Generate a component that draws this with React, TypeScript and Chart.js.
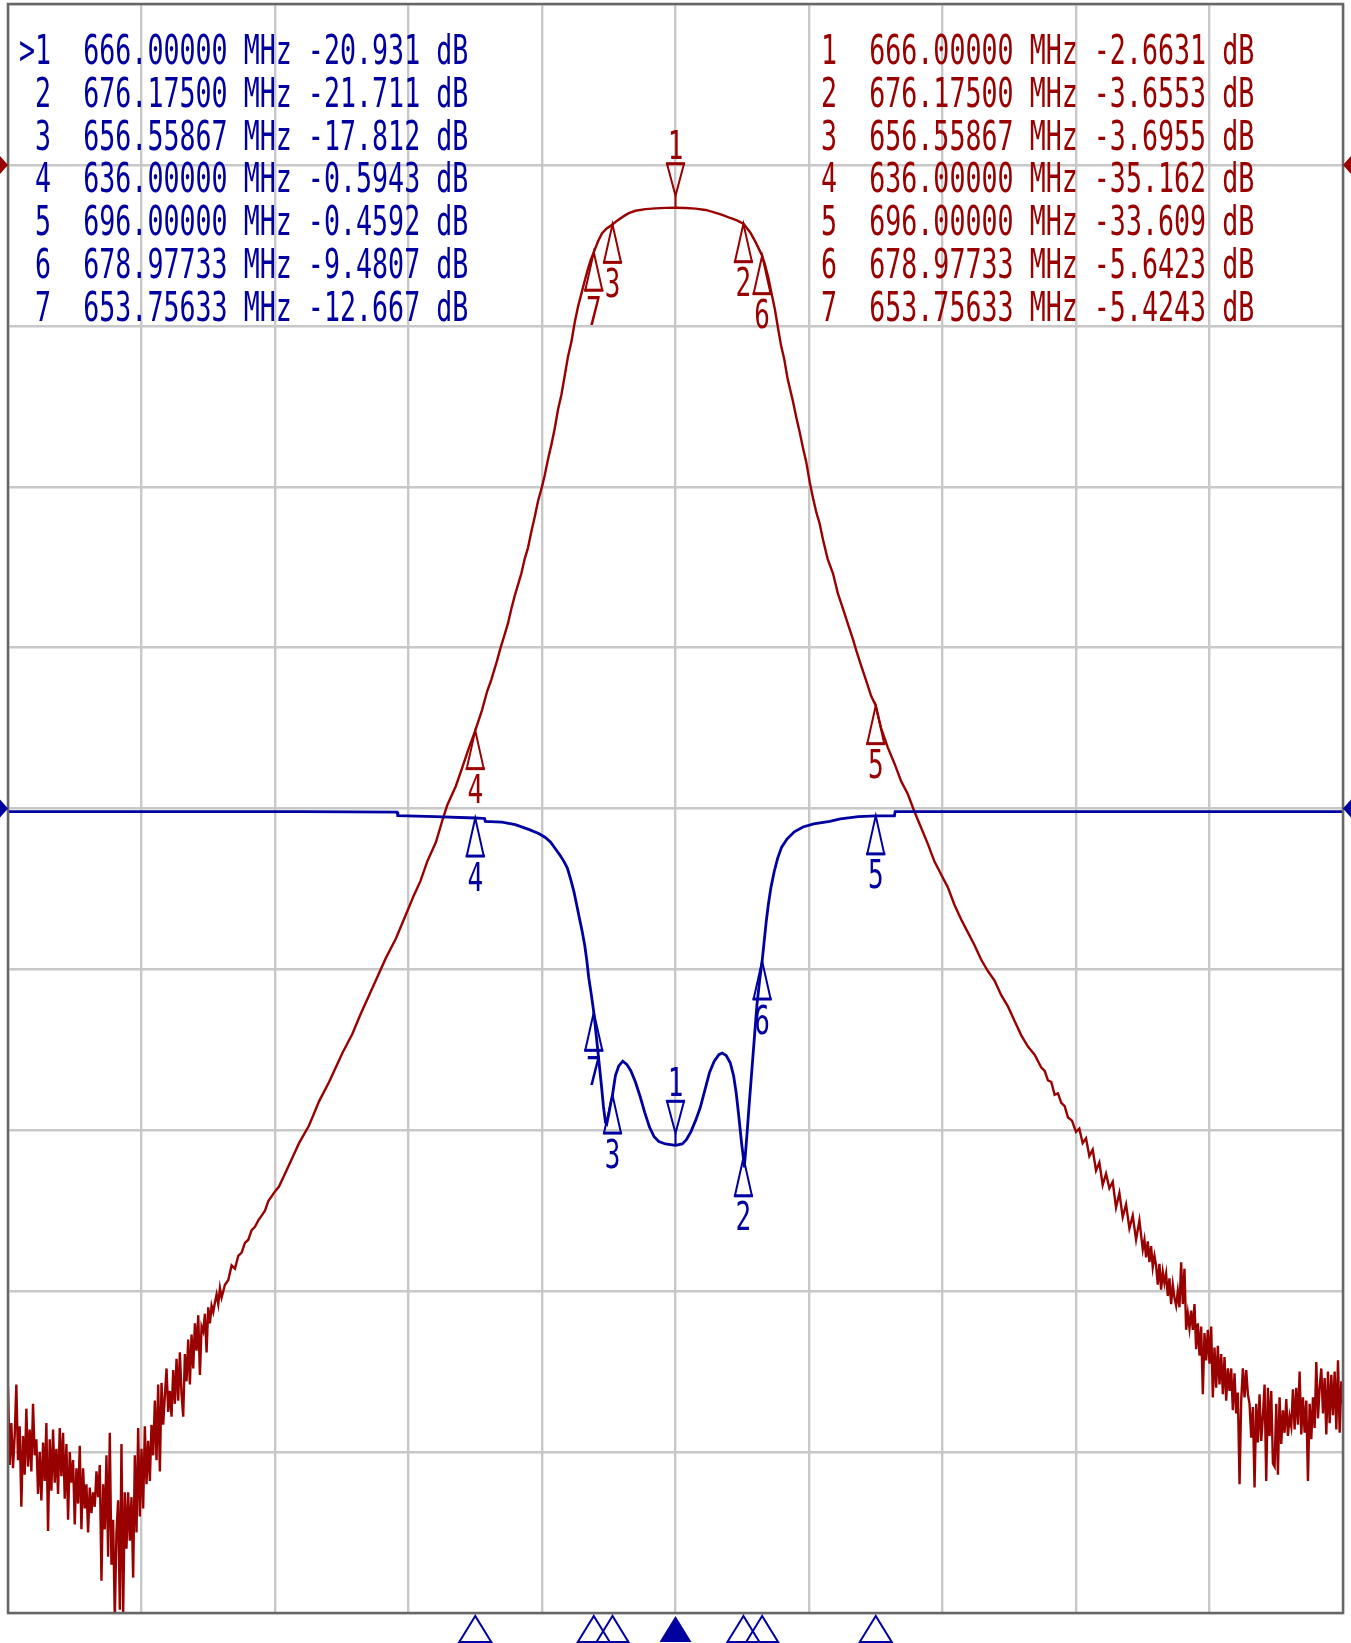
import React, { useEffect, useRef } from "react";
import { Chart, registerables } from "chart.js";

Chart.register(...registerables);

const PAGE_W = 1351;
const PAGE_H = 1643;

const S21_COLOR = "#990000";
const S11_COLOR = "#0000a0";
const GRID_COLOR = "#c8c8c8";
const FRAME_COLOR = "#666666";

// Sweep / scale settings (MHz, dB)
const freqStartMHz = 566;
const freqStopMHz = 766;
const freqPerDiv = 20;
const dbPerDiv = 10;
const s21Top = 10;
const s21Bottom = -90;
const s11Top = 50;
const s11Bottom = -50;
const s21RefLevel = 0;
const s11RefLevel = 0;

// Markers
const markerIds = ["1", "2", "3", "4", "5", "6", "7"];
const markerFreqs = [666.0, 676.175, 656.55867, 636.0, 696.0, 678.97733, 653.75633];
const s11MarkerValues = [-20.931, -21.711, -17.812, -0.5943, -0.4592, -9.4807, -12.667];
const s21MarkerValues = [-2.6631, -3.6553, -3.6955, -35.162, -33.609, -5.6423, -5.4243];
const activeMarker = 0;

// S21 trace (MHz, dB)
const s21LowerStopband = [
  [566.0, -76.0], [566.25, -80.8], [566.5, -78.2], [566.75, -81.0], [567.0, -79.0], [567.25, -75.8], [567.5, -80.5], [567.75, -78.4],
  [568.0, -83.4], [568.25, -79.0], [568.5, -81.4], [568.75, -77.3], [569.0, -80.9], [569.25, -78.6], [569.5, -81.2], [569.75, -77.0],
  [570.0, -80.2], [570.25, -79.2], [570.5, -82.6], [570.75, -80.0], [571.0, -83.0], [571.25, -79.4], [571.5, -81.8], [571.75, -78.2],
  [572.0, -84.9], [572.25, -79.2], [572.5, -82.4], [572.75, -78.6], [573.0, -81.9], [573.25, -79.8], [573.5, -82.6], [573.75, -78.5],
  [574.0, -81.5], [574.25, -78.8], [574.5, -82.9], [574.75, -79.5], [575.0, -84.2], [575.25, -80.0], [575.5, -81.9], [575.75, -80.5],
  [576.0, -84.5], [576.25, -81.0], [576.5, -83.2], [576.75, -79.6], [577.0, -84.8], [577.25, -81.0], [577.5, -83.5], [577.75, -82.0],
  [578.0, -85.0], [578.25, -82.2], [578.5, -83.8], [578.75, -82.5], [579.0, -83.4], [579.25, -81.2], [579.5, -82.8], [579.75, -80.8],
  [580.0, -88.0], [580.25, -82.0], [580.5, -84.8], [580.75, -80.2], [581.0, -86.5], [581.25, -78.8], [581.5, -87.0], [581.75, -84.2],
  [582.0, -90.3], [582.25, -85.0], [582.5, -83.0], [582.75, -89.8], [583.0, -79.5], [583.25, -90.2], [583.5, -82.5], [583.75, -86.0],
  [584.0, -82.5], [584.25, -85.5], [584.5, -82.8], [584.75, -87.8], [585.0, -80.2], [585.25, -85.0], [585.5, -78.5], [585.75, -84.0],
  [586.0, -79.8], [586.25, -83.5], [586.5, -78.4], [586.75, -82.0], [587.0, -79.3], [587.25, -81.8], [587.5, -78.3], [587.75, -80.2],
  [588.0, -76.8], [588.25, -80.5], [588.5, -75.8], [588.75, -81.2], [589.0, -75.7], [589.25, -78.3], [589.5, -76.5], [589.75, -74.8],
  [590.0, -77.5], [590.25, -76.2], [590.5, -77.8], [590.75, -74.9], [591.0, -77.0], [591.25, -74.2], [591.5, -76.8], [591.75, -73.8],
  [592.0, -76.4], [592.25, -77.8], [592.5, -73.9], [592.75, -75.6], [593.0, -73.0], [593.25, -75.8], [593.5, -72.7], [593.75, -74.8],
  [594.0, -72.0], [594.25, -73.7], [594.5, -71.5], [594.75, -75.2], [595.0, -72.2], [595.25, -72.5], [595.5, -71.4], [595.75, -73.8],
  [596.0, -71.0], [596.25, -72.0], [596.5, -70.9], [596.75, -71.3], [597.0, -70.7], [597.25, -70.2], [597.5, -70.8], [597.75, -69.8],
];

const s21LowerSkirt = [
  [598.0, -70.4], [598.5, -69.6], [599.0, -69.3], [599.5, -68.4], [600.0, -68.6], [600.5, -67.8], [601.0, -67.6], [601.5, -67.0],
  [602.0, -66.8], [602.5, -66.2], [603.0, -66.0], [603.5, -65.6], [604.0, -65.3], [604.5, -65.0], [605.0, -64.4], [606.0, -63.8],
  [606.6, -63.5], [607.6, -62.6], [608.6, -61.7], [609.6, -60.8], [611.1, -59.7], [612.6, -58.2], [614.1, -57.0], [615.1, -56.1],
  [616.1, -55.2], [617.6, -54.0], [618.8, -52.8], [620.1, -51.6], [621.3, -50.5], [622.6, -49.3], [624.1, -48.1], [625.6, -46.6],
  [626.8, -45.4], [627.8, -44.5], [628.8, -43.3], [630.1, -42.1], [631.1, -40.7], [631.8, -39.8], [633.1, -38.6], [634.1, -37.4],
  [635.0, -36.3], [636.0, -35.16], [637.0, -33.9], [637.8, -32.7], [638.4, -32.0], [639.2, -30.9], [639.8, -30.0], [640.4, -29.2],
  [640.9, -28.5], [641.4, -27.6], [641.9, -26.8], [642.4, -26.1], [642.9, -25.4], [643.4, -24.5], [643.9, -23.8], [644.4, -22.8],
  [644.9, -21.9], [645.4, -20.9], [646.0, -20.0], [646.4, -19.3], [646.9, -18.3], [647.4, -17.4], [647.9, -16.4], [648.4, -15.2],
  [648.9, -14.3], [649.4, -13.1], [649.9, -11.9], [650.4, -11.0], [650.9, -9.8], [651.4, -8.8], [651.9, -8.0], [652.4, -7.2],
  [652.9, -6.45], [653.3, -5.9],
];

const s21Passband = [
  [653.76, -5.42], [654.4, -4.75], [655.0, -4.25], [655.7, -3.95], [656.56, -3.7], [657.3, -3.45], [658.2, -3.2], [659.0, -3.0],
  [660.0, -2.85], [661.5, -2.75], [663.0, -2.7], [664.5, -2.67], [666.0, -2.66], [667.5, -2.68], [669.0, -2.72], [670.5, -2.8],
  [671.8, -2.95], [673.0, -3.1], [674.2, -3.3], [675.2, -3.45], [676.18, -3.66], [677.2, -4.2], [678.0, -4.8], [678.98, -5.64],
];

const s21UpperSkirt = [
  [679.4, -6.2], [679.9, -7.0], [680.4, -8.0], [680.9, -9.0], [681.3, -10.0], [681.8, -11.2], [682.3, -12.1], [682.8, -13.3],
  [683.6, -14.7], [684.1, -15.7], [684.6, -16.6], [685.1, -17.6], [685.6, -18.5], [686.1, -19.7], [686.6, -20.7], [687.1, -21.6],
  [687.6, -22.3], [688.1, -23.3], [688.8, -24.5], [689.6, -25.4], [690.3, -26.6], [691.1, -27.6], [691.8, -28.5], [692.6, -29.5],
  [693.1, -30.2], [693.8, -31.1], [694.6, -32.1], [695.3, -33.0], [696.0, -33.61], [696.8, -35.0], [697.8, -36.2], [698.8, -37.2],
  [699.8, -38.3], [700.8, -39.1], [701.8, -40.2], [702.8, -41.2], [703.8, -42.2], [704.8, -43.3], [705.8, -44.1], [706.8, -44.9],
  [707.8, -46.0], [708.8, -46.9], [709.8, -47.7], [710.8, -48.5], [711.8, -49.4], [712.8, -50.1], [713.8, -50.7], [714.8, -51.6],
  [715.8, -52.3], [716.8, -53.2], [717.8, -54.1], [718.8, -54.8], [719.8, -55.3], [720.8, -56.1], [721.3, -56.3], [721.8, -56.9],
  [722.3, -57.0], [722.8, -57.8], [723.3, -57.7], [723.8, -58.3], [724.3, -58.5], [724.8, -59.2], [725.4, -59.4], [726.0, -60.1],
  [726.5, -59.9], [727.0, -60.8], [727.5, -60.5], [728.0, -61.6], [728.5, -61.2], [729.0, -62.5], [729.5, -62.0], [730.0, -63.4],
  [730.5, -62.7], [731.0, -63.6], [731.5, -63.2], [732.0, -64.8], [732.5, -63.9], [733.0, -65.4], [733.5, -64.6], [734.0, -66.1],
  [734.5, -65.3], [735.0, -66.8], [735.5, -65.6], [736.0, -67.4], [736.25, -66.8], [736.5, -67.9], [736.75, -66.9], [737.0, -68.2],
  [737.25, -67.2], [737.5, -68.5], [737.75, -67.8],
];

const s21UpperStopband = [
  [738.0, -68.4], [738.25, -69.6], [738.5, -68.3], [738.75, -69.9], [739.0, -68.8], [739.25, -69.5], [739.5, -68.9], [739.75, -70.3],
  [740.0, -69.2], [740.25, -70.8], [740.5, -69.6], [740.75, -70.4], [741.0, -70.9], [741.25, -70.0], [741.5, -71.0], [741.75, -68.2],
  [742.0, -70.8], [742.25, -68.6], [742.5, -72.4], [742.75, -71.4], [743.0, -72.3], [743.25, -71.2], [743.5, -72.4], [743.75, -70.8],
  [744.0, -73.6], [744.25, -72.0], [744.5, -74.0], [744.75, -72.2], [745.0, -76.4], [745.25, -72.6], [745.5, -74.3], [745.75, -72.4],
  [746.0, -74.5], [746.25, -72.2], [746.5, -76.6], [746.75, -73.5], [747.0, -76.0], [747.25, -73.4], [747.5, -75.8], [747.75, -73.9],
  [748.0, -76.4], [748.25, -74.1], [748.5, -76.8], [748.75, -74.8], [749.0, -76.2], [749.25, -74.8], [749.5, -77.4], [749.75, -75.1],
  [750.0, -77.6], [750.25, -76.3], [750.5, -82.0], [750.75, -76.8], [751.0, -74.8], [751.25, -76.6], [751.5, -74.9], [751.75, -76.4],
  [752.0, -77.0], [752.25, -79.1], [752.5, -77.2], [752.75, -82.2], [753.0, -77.0], [753.25, -79.4], [753.5, -76.4], [753.75, -79.3],
  [754.0, -77.8], [754.25, -75.8], [754.5, -81.8], [754.75, -76.0], [755.0, -79.0], [755.25, -76.2], [755.5, -80.7], [755.75, -80.9],
  [756.0, -77.0], [756.25, -81.4], [756.5, -76.6], [756.75, -79.5], [757.0, -77.4], [757.25, -78.8], [757.5, -76.7], [757.75, -79.0],
  [758.0, -77.8], [758.25, -78.4], [758.5, -76.1], [758.75, -78.6], [759.0, -76.0], [759.25, -78.3], [759.5, -75.0], [759.75, -78.9],
  [760.0, -76.6], [760.25, -78.8], [760.5, -76.8], [760.75, -81.8], [761.0, -77.0], [761.25, -79.2], [761.5, -76.6], [761.75, -78.5],
  [762.0, -74.4], [762.25, -77.9], [762.5, -76.0], [762.75, -74.8], [763.0, -77.6], [763.25, -75.4], [763.5, -78.9], [763.75, -75.0],
  [764.0, -78.2], [764.25, -75.2], [764.5, -77.7], [764.75, -75.0], [765.0, -78.6], [765.25, -74.3], [765.5, -78.8], [765.75, -75.6],
  [766.0, -77.0],
];

// S11 trace (MHz, dB)
const s11LowerBand = [
  [566.0, -0.2], [590.0, -0.2], [610.0, -0.2], [624.3, -0.22], [624.4, -0.45], [630.0, -0.5], [636.0, -0.59], [637.4, -0.62],
  [637.5, -0.8], [640.0, -0.85], [642.0, -1.0], [644.0, -1.3], [645.5, -1.55],
];

const s11Passband = [
  [646.5, -1.8], [647.3, -2.1], [648.0, -2.5], [648.7, -2.9], [649.3, -3.3], [649.8, -3.7], [650.3, -4.4], [650.8, -5.2],
  [651.2, -6.0], [651.6, -6.8], [652.0, -7.6], [652.4, -8.5], [652.7, -9.4], [653.0, -10.5], [653.4, -11.6], [653.76, -12.67],
  [654.1, -14.0], [654.5, -15.6], [654.9, -17.2], [655.2, -18.5], [655.5, -19.5], [655.7, -19.6], [656.0, -19.0], [656.3, -18.3],
  [656.56, -17.81], [657.0, -16.6], [657.5, -16.0], [658.1, -15.7], [658.7, -15.9], [659.3, -16.3], [660.0, -17.0], [660.7, -17.9],
  [661.4, -18.9], [662.1, -19.8], [662.8, -20.4], [663.5, -20.7], [664.5, -20.85], [666.0, -20.93], [667.0, -20.85], [667.6, -20.6],
  [668.3, -20.1], [669.0, -19.4], [669.7, -18.6], [670.4, -17.5], [671.1, -16.4], [671.8, -15.7], [672.5, -15.3], [673.0, -15.2],
  [673.6, -15.35], [674.2, -15.8], [674.7, -16.6], [675.1, -17.7], [675.5, -19.2], [675.9, -20.8], [676.175, -21.71], [676.3, -22.3],
  [676.45, -21.6], [676.7, -20.3], [677.0, -18.6], [677.3, -17.0], [677.6, -15.4], [677.9, -13.8], [678.2, -12.2], [678.6, -10.7],
  [678.977, -9.48], [679.3, -8.2], [679.6, -7.0], [679.9, -6.0], [680.3, -4.9], [680.8, -3.9], [681.3, -3.1], [681.9, -2.4],
  [682.7, -1.9], [683.8, -1.45], [685.1, -1.15], [686.7, -0.95], [689.1, -0.8], [690.7, -0.65], [693.4, -0.5], [696.0, -0.46],
  [698.8, -0.45],
];

const s11UpperBand = [[698.9, -0.2], [720.0, -0.2], [745.0, -0.2], [766.0, -0.2]];

const toPoints = (arr: number[][]) => arr.map(([x, y]) => ({ x, y }));

const fmtDb = (v: number) => (Math.abs(v) >= 10 ? v.toFixed(3) : v.toFixed(4));

const NUM_FONT = '26px "DejaVu Sans Mono", "Liberation Mono", monospace';

function drawNumber(ctx: CanvasRenderingContext2D, text: string, cx: number, top: number, color: string) {
  ctx.save();
  ctx.fillStyle = color;
  ctx.font = NUM_FONT;
  ctx.textAlign = "center";
  ctx.textBaseline = "alphabetic";
  ctx.translate(cx, top);
  ctx.scale(1, 1.5);
  ctx.fillText(text, 0, 19);
  ctx.restore();
}

function drawUpMarker(ctx: CanvasRenderingContext2D, x: number, y: number, label: string, color: string) {
  const hw = 8.5;
  const h = 38;
  ctx.save();
  ctx.strokeStyle = color;
  ctx.lineWidth = 2;
  ctx.beginPath();
  ctx.moveTo(x, y);
  ctx.lineTo(x - hw, y + h);
  ctx.lineTo(x + hw, y + h);
  ctx.closePath();
  ctx.stroke();
  ctx.lineWidth = 3;
  ctx.beginPath();
  ctx.moveTo(x - hw - 1, y + h);
  ctx.lineTo(x + hw + 1, y + h);
  ctx.stroke();
  ctx.restore();
  drawNumber(ctx, label, x, y + h + 6, color);
}

function drawDownMarker(ctx: CanvasRenderingContext2D, x: number, y: number, label: string, color: string) {
  const hw = 8.5;
  const h = 32;
  const stem = 12;
  ctx.save();
  ctx.strokeStyle = color;
  ctx.lineWidth = 2;
  ctx.beginPath();
  ctx.moveTo(x, y);
  ctx.lineTo(x, y - stem);
  ctx.stroke();
  const t = y - stem;
  ctx.beginPath();
  ctx.moveTo(x, t);
  ctx.lineTo(x - hw, t - h);
  ctx.lineTo(x + hw, t - h);
  ctx.closePath();
  ctx.stroke();
  ctx.lineWidth = 3;
  ctx.beginPath();
  ctx.moveTo(x - hw - 1, t - h);
  ctx.lineTo(x + hw + 1, t - h);
  ctx.stroke();
  ctx.restore();
  drawNumber(ctx, label, x, t - h - 5 - 28.5, color);
}

const framePlugin = {
  id: "vnaFrame",
  afterDatasetsDraw(chart: any) {
    const { ctx, chartArea: a } = chart;
    ctx.save();
    ctx.strokeStyle = FRAME_COLOR;
    ctx.lineWidth = 2.5;
    ctx.strokeRect(a.left, a.top, a.right - a.left, a.bottom - a.top);
    ctx.restore();
  },
};

const markerPlugin = {
  id: "vnaMarkers",
  afterDatasetsDraw(chart: any) {
    const { ctx, chartArea: a } = chart;
    const xs = chart.scales.x;
    const y21 = chart.scales.yS21;
    const y11 = chart.scales.yS11;

    const drawRef = (y: number, color: string) => {
      ctx.save();
      ctx.fillStyle = color;
      ctx.beginPath();
      ctx.moveTo(0, y - 9);
      ctx.lineTo(a.left, y);
      ctx.lineTo(0, y + 9);
      ctx.closePath();
      ctx.fill();
      ctx.beginPath();
      ctx.moveTo(PAGE_W, y - 9);
      ctx.lineTo(a.right, y);
      ctx.lineTo(PAGE_W, y + 9);
      ctx.closePath();
      ctx.fill();
      ctx.restore();
    };
    drawRef(y21.getPixelForValue(s21RefLevel), S21_COLOR);
    drawRef(y11.getPixelForValue(s11RefLevel), S11_COLOR);

    markerIds.forEach((id, i) => {
      const x = xs.getPixelForValue(markerFreqs[i]);
      const p21 = y21.getPixelForValue(s21MarkerValues[i]);
      const p11 = y11.getPixelForValue(s11MarkerValues[i]);
      if (i === activeMarker) {
        drawDownMarker(ctx, x, p21, id, S21_COLOR);
        drawDownMarker(ctx, x, p11, id, S11_COLOR);
      } else {
        drawUpMarker(ctx, x, p21, id, S21_COLOR);
        drawUpMarker(ctx, x, p11, id, S11_COLOR);
      }
      const yb = a.bottom + 3;
      ctx.save();
      ctx.strokeStyle = S11_COLOR;
      ctx.fillStyle = S11_COLOR;
      ctx.lineWidth = 2;
      ctx.beginPath();
      ctx.moveTo(x, yb);
      ctx.lineTo(x - 16, yb + 26);
      ctx.lineTo(x + 16, yb + 26);
      ctx.closePath();
      if (i === activeMarker) ctx.fill();
      else ctx.stroke();
      ctx.restore();
    });
  },
};

const ROW_PITCH = 42.75;
const ROW_TOP0 = 30.2;
const TEXT_FONT = '26.67px "DejaVu Sans Mono", "Liberation Mono", monospace';

export default function App() {
  const canvasRef = useRef<HTMLCanvasElement | null>(null);

  useEffect(() => {
    const canvas = canvasRef.current;
    if (!canvas) return;
    const s21Data = toPoints([
      ...s21LowerStopband,
      ...s21LowerSkirt,
      ...s21Passband,
      ...s21UpperSkirt,
      ...s21UpperStopband,
    ]);
    const s11Data = toPoints([...s11LowerBand, ...s11Passband, ...s11UpperBand]);

    const gridOpts = { color: GRID_COLOR, lineWidth: 2.4, drawTicks: false };

    const chart = new Chart(canvas, {
      type: "line",
      data: {
        datasets: [
          {
            label: "S11",
            data: s11Data,
            yAxisID: "yS11",
            borderColor: S11_COLOR,
            borderWidth: 2.8,
            pointRadius: 0,
            tension: 0,
            order: 0,
          },
          {
            label: "S21",
            data: s21Data,
            yAxisID: "yS21",
            borderColor: S21_COLOR,
            borderWidth: 2.4,
            pointRadius: 0,
            tension: 0,
            order: 1,
          },
        ],
      },
      options: {
        responsive: false,
        devicePixelRatio: 1,
        animation: false,
        events: [],
        layout: { padding: { left: 8, top: 4, right: 8, bottom: 30 } },
        plugins: { legend: { display: false }, tooltip: { enabled: false } },
        scales: {
          x: {
            type: "linear",
            min: freqStartMHz,
            max: freqStopMHz,
            ticks: { display: false, stepSize: freqPerDiv },
            grid: gridOpts,
            border: { display: false },
          },
          yS21: {
            type: "linear",
            position: "left",
            min: s21Bottom,
            max: s21Top,
            ticks: { display: false, stepSize: dbPerDiv },
            grid: gridOpts,
            border: { display: false },
          },
          yS11: {
            type: "linear",
            position: "right",
            min: s11Bottom,
            max: s11Top,
            display: false,
          },
        },
      },
      plugins: [framePlugin, markerPlugin],
    });
    return () => chart.destroy();
  }, []);

  const leftRows = markerIds.map(
    (id, i) =>
      (i === activeMarker ? ">" : " ") +
      id +
      "  " +
      markerFreqs[i].toFixed(5) +
      " MHz " +
      fmtDb(s11MarkerValues[i]) +
      " dB"
  );
  const rightRows = markerIds.map(
    (id, i) => id + "  " + markerFreqs[i].toFixed(5) + " MHz " + fmtDb(s21MarkerValues[i]) + " dB"
  );

  const rowStyle = (left: number, i: number, color: string): React.CSSProperties => ({
    position: "absolute",
    left,
    top: ROW_TOP0 + i * ROW_PITCH,
    font: TEXT_FONT,
    lineHeight: "26.67px",
    whiteSpace: "pre",
    color,
    transform: "scaleY(1.55)",
    transformOrigin: "0 0",
    margin: 0,
  });

  return (
    <div
      style={{
        position: "absolute",
        left: 0,
        top: 0,
        width: PAGE_W,
        height: PAGE_H,
        background: "#ffffff",
        overflow: "hidden",
      }}
    >
      <canvas ref={canvasRef} width={PAGE_W} height={PAGE_H} style={{ display: "block" }} />
      {leftRows.map((t, i) => (
        <div key={"l" + i} style={rowStyle(19, i, S11_COLOR)}>
          {t}
        </div>
      ))}
      {rightRows.map((t, i) => (
        <div key={"r" + i} style={rowStyle(821, i, S21_COLOR)}>
          {t}
        </div>
      ))}
    </div>
  );
}
